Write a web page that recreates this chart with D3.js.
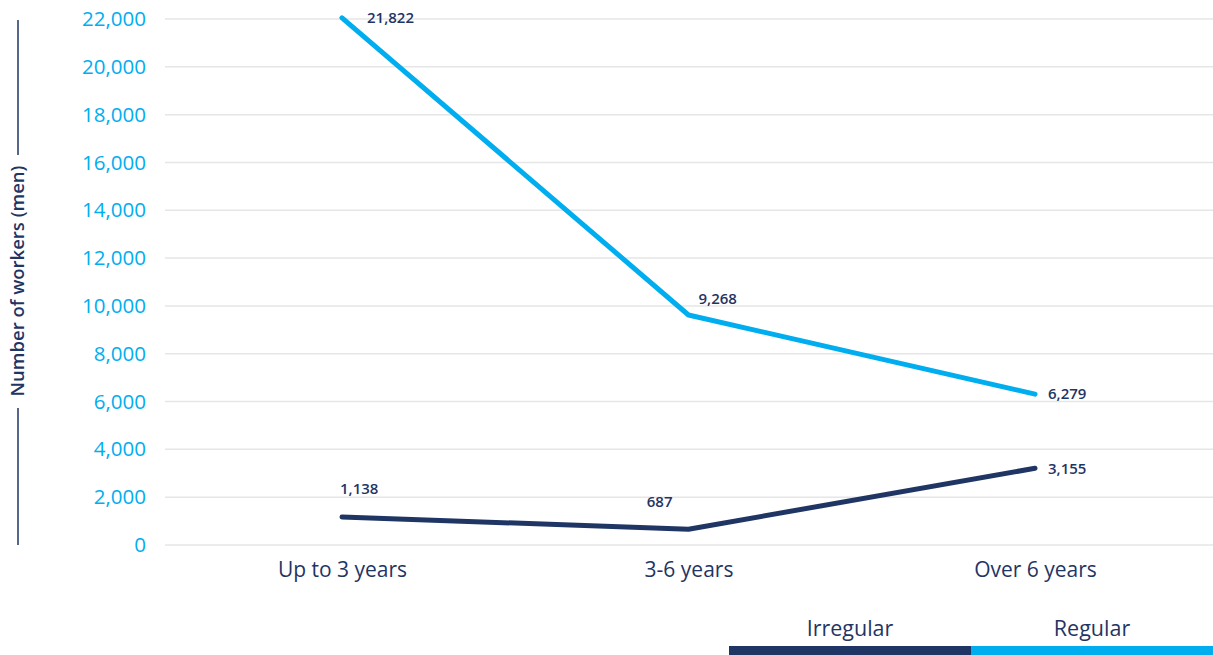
<!DOCTYPE html>
<html>
<head>
<meta charset="utf-8">
<script src="https://cdn.jsdelivr.net/npm/d3@7"></script>
<style>
  body { margin: 0; background: #fff; }
  text { font-family: "Open Sans", sans-serif; }
</style>
</head>
<body>
<div id="chart"></div>
<script>
// Data
const categories = ["Up to 3 years", "3-6 years", "Over 6 years"];
const regularValues = [22050, 9620, 6310];
const irregularValues = [1170, 660, 3210];
const regularLabels = ["21,822", "9,268", "6,279"];
const irregularLabels = ["1,138", "687", "3,155"];
const yTicks = [0, 2000, 4000, 6000, 8000, 10000, 12000, 14000, 16000, 18000, 20000, 22000];
const legendNames = ["Irregular", "Regular"];

// Colours
const navy = "#1f3564";
const cyan = "#00aeef";

const svgWidth = 1213;
const svgHeight = 655;

const svg = d3.select("#chart")
  .append("svg")
  .attr("width", svgWidth)
  .attr("height", svgHeight);

// Scales
const x = d3.scalePoint()
  .domain(categories)
  .range([342, 1035]);

const y = d3.scaleLinear()
  .domain([0, 22000])
  .range([545, 19]);

// Gridlines
svg.append("g")
  .selectAll("line")
  .data(yTicks)
  .enter()
  .append("line")
  .attr("x1", 165)
  .attr("x2", svgWidth)
  .attr("y1", d => y(d))
  .attr("y2", d => y(d))
  .attr("stroke", "#e6e6e6")
  .attr("stroke-width", 1.5);

// Y axis tick labels
const yAxis = d3.axisLeft(y)
  .tickValues(yTicks)
  .tickSize(0)
  .tickPadding(0)
  .tickFormat(d3.format(","));

svg.append("g")
  .attr("transform", "translate(146,0)")
  .call(yAxis)
  .call(g => g.select(".domain").remove())
  .selectAll("text")
  .attr("fill", cyan)
  .attr("font-size", "20.5px")
  .attr("font-family", "Open Sans, sans-serif");

// X axis labels
const xAxis = d3.axisBottom(x).tickSize(0).tickPadding(0);
svg.append("g")
  .attr("transform", "translate(0,562)")
  .call(xAxis)
  .call(g => g.select(".domain").remove())
  .selectAll("text")
  .attr("fill", navy)
  .attr("font-size", "21px")
  .attr("font-family", "Open Sans, sans-serif");

// Y axis title with lines
svg.append("line")
  .attr("x1", 18).attr("x2", 18)
  .attr("y1", 20).attr("y2", 155)
  .attr("stroke", navy).attr("stroke-width", 1.5);
svg.append("line")
  .attr("x1", 18).attr("x2", 18)
  .attr("y1", 408).attr("y2", 545)
  .attr("stroke", navy).attr("stroke-width", 1.5);
svg.append("text")
  .attr("transform", "translate(18,281) rotate(-90)")
  .attr("text-anchor", "middle")
  .attr("dy", "0.35em")
  .attr("fill", navy)
  .attr("font-size", "18.5px")
  .attr("font-weight", 600)
  .text("Number of workers (men)");

// Lines
const line = d3.line()
  .x((d, i) => x(categories[i]))
  .y(d => y(d));

const series = [
  { values: irregularValues, labels: irregularLabels, color: navy,
    offsets: [[-2, -28, "start"], [-16, -27, "end"], [13, 0, "start"]] },
  { values: regularValues, labels: regularLabels, color: cyan,
    offsets: [[25, 0, "start"], [10, -16, "start"], [13, 0, "start"]] }
];

series.forEach(s => {
  svg.append("path")
    .datum(s.values)
    .attr("d", line)
    .attr("fill", "none")
    .attr("stroke", s.color)
    .attr("stroke-width", 5)
    .attr("stroke-linecap", "round")
    .attr("stroke-linejoin", "round");

  svg.append("g")
    .selectAll("text")
    .data(s.values)
    .enter()
    .append("text")
    .attr("x", (d, i) => x(categories[i]) + s.offsets[i][0])
    .attr("y", (d, i) => y(d) + s.offsets[i][1])
    .attr("dy", "0.35em")
    .attr("text-anchor", (d, i) => s.offsets[i][2])
    .attr("fill", navy)
    .attr("font-size", "15px")
    .attr("font-weight", 600)
    .text((d, i) => s.labels[i]);
});

// Legend
const legend = svg.append("g");
const legendX = d3.scaleBand().domain(legendNames).range([729, svgWidth]);
const legendColors = [navy, cyan];

legend.selectAll("rect")
  .data(legendNames)
  .enter()
  .append("rect")
  .attr("x", d => legendX(d))
  .attr("y", 646)
  .attr("width", legendX.bandwidth())
  .attr("height", 9)
  .attr("fill", (d, i) => legendColors[i]);

legend.selectAll("text")
  .data(legendNames)
  .enter()
  .append("text")
  .attr("x", d => legendX(d) + legendX.bandwidth() / 2)
  .attr("y", 636)
  .attr("text-anchor", "middle")
  .attr("fill", navy)
  .attr("font-size", "21.5px")
  .text(d => d);
</script>
</body>
</html>
